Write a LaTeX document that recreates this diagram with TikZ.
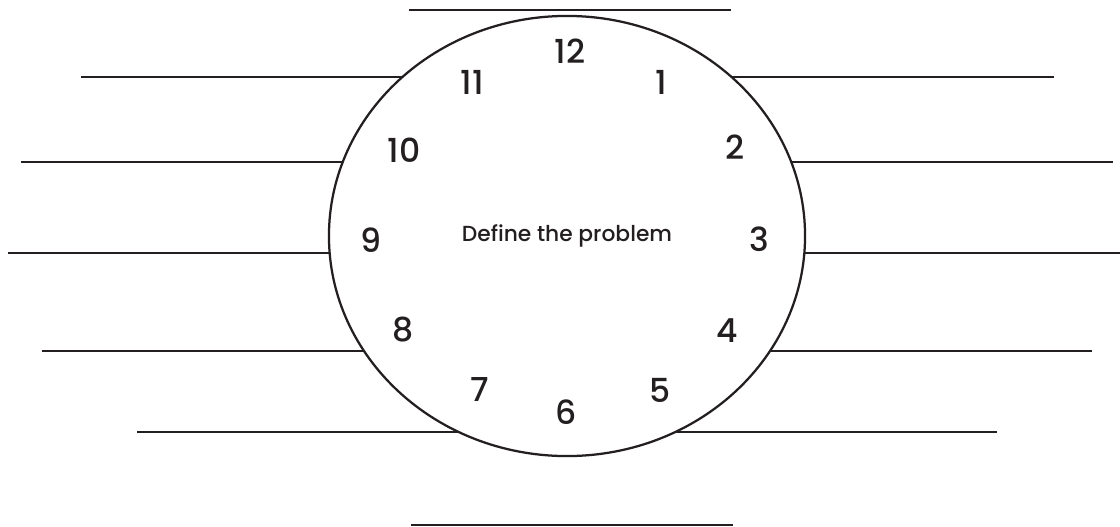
\documentclass[tikz,border=0pt]{standalone}
\usepackage{fontspec}
\setmainfont{Poppins}[UprightFont=* Medium]
\usepackage{tikz}
\usetikzlibrary{shapes.geometric,calc}
\definecolor{ckInk}{HTML}{231F20}
\tikzset{
  % Clock face (ellipse)
  face/.style={ellipse,draw=ckInk,line width=1.6pt,
    minimum width=11.9cm,minimum height=11cm,
    inner sep=0pt,outer sep=0pt,
    font=\fontsize{15.5}{15.5}\selectfont,text=ckInk},
  % Hour numbers
  hour/.style={inner sep=0pt,
    font=\fontsize{23.5}{23.5}\selectfont,text=ckInk},
  % Writing lines
  rule/.style={draw=ckInk,line width=1.8pt},
}
\begin{document}
\begin{tikzpicture}[x=0.025cm,y=-0.025cm]
  \useasboundingbox[fill=white] (0,0) rectangle (1120,527);

  \node[face] (clock) at (567,236) {Define the problem};

  % hour numbers round the face
  \foreach \h/\x/\y in {12/570/51,1/661/82,2/735/147,3/759/239,
      4/727/331,5/660/390,6/566/412,7/480/389,8/403/330,
      9/371/240,10/404/150,11/472/82}
    \node[hour] (h\h) at (\x,\y) {\h};

  % lines to the right and to the left, starting on the face
  \foreach \dx/\dy in {164.5/-159,224.1/-74,237.3/17,202.9/115,108.1/196}{
    \draw[rule] ($(clock.center)+(\dx,\dy)$) -- ++(322,0);
    \draw[rule] ($(clock.center)+(-\dx,\dy)$) -- ++(-322,0);
  }

  % top and bottom lines
  \draw[rule] ([shift={(-158,-6)}]clock.north) -- ++(322,0);
  \draw[rule] ([shift={(-156,69)}]clock.south) -- ++(322,0);
\end{tikzpicture}
\end{document}
